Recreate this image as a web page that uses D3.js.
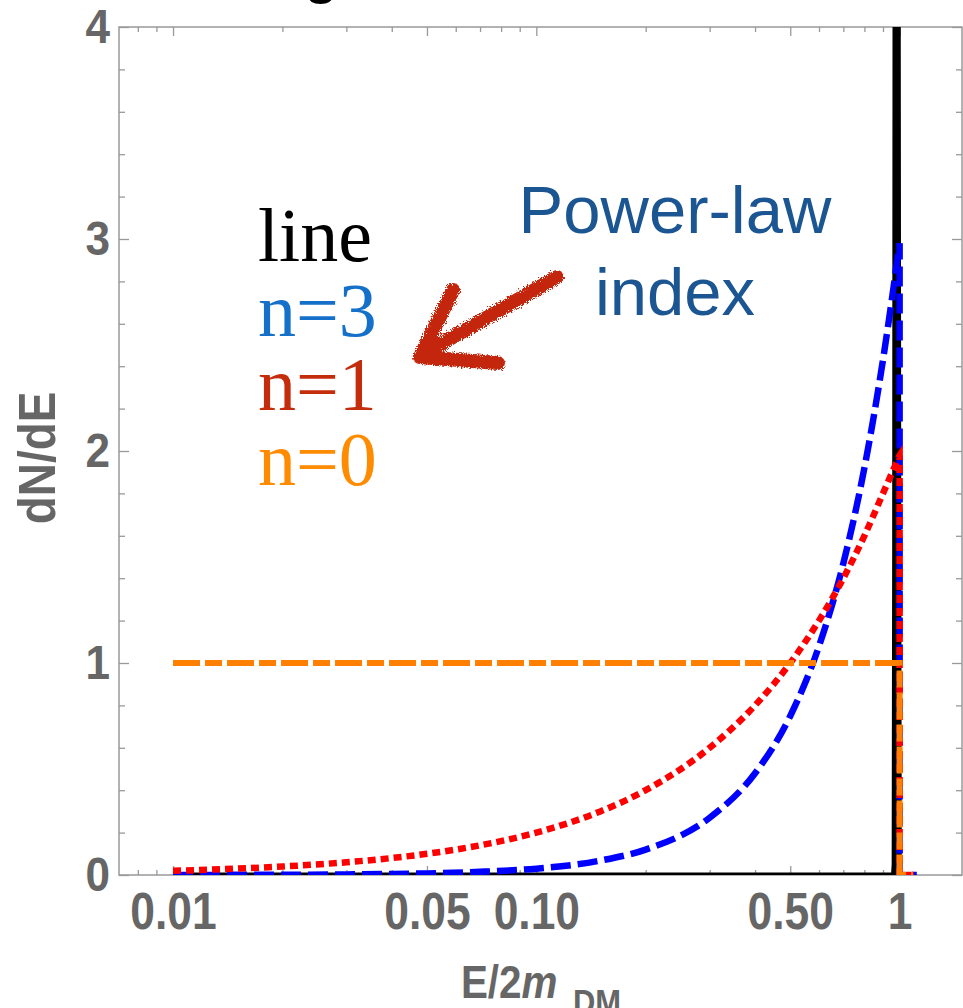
<!DOCTYPE html>
<html>
<head>
<meta charset="utf-8">
<script src="https://cdn.jsdelivr.net/npm/d3@7"></script>
<style>
  body { margin: 0; background: #fff; }
  svg { display: block; }
</style>
</head>
<body>
<script>
// values
const xValues  = [0.01, 0.015, 0.02, 0.03, 0.04, 0.05, 0.07, 0.1, 0.15, 0.2, 0.3, 0.4, 0.5, 0.6, 0.7, 0.8, 0.9, 1.0];
const n3Values = [0.0003, 0.0007, 0.0012, 0.0027, 0.0048, 0.0075, 0.015, 0.03, 0.068, 0.12, 0.27, 0.48, 0.75, 1.08, 1.47, 1.92, 2.43, 2.98];
const n1Values = [0.02, 0.03, 0.04, 0.06, 0.08, 0.10, 0.14, 0.20, 0.30, 0.40, 0.60, 0.80, 1.00, 1.20, 1.40, 1.60, 1.80, 1.98];
const n0X = [0.01, 1.0];
const n0Values = [1, 1];
const lineX = [0.01, 0.962, 0.966, 0.969, 0.972, 0.99, 0.995, 0.998, 1.0];
const lineValues = [0, 0, 0.05, 1.5, 5, 5, 1.5, 0.05, 0];
const tailEnd = { n3: 1.115, n1: 1.1, n0: 1.088 };

const xMajorTicks = [0.01, 0.05, 0.1, 0.5, 1];
const xTickLabels = ["0.01", "0.05", "0.10", "0.50", "1"];
const xMinorTicks = [0.008, 0.009, 0.02, 0.03, 0.04, 0.06, 0.07, 0.08, 0.09, 0.2, 0.3, 0.4, 0.6, 0.7, 0.8, 0.9];
const yMajorTicks = [0, 1, 2, 3, 4];
const yMinorTicks = [0.2, 0.4, 0.6, 0.8, 1.2, 1.4, 1.6, 1.8, 2.2, 2.4, 2.6, 2.8, 3.2, 3.4, 3.6, 3.8];
const legendLabels = ["line", "n=3", "n=1", "n=0"];
const legendColors = ["#000000", "#1470c8", "#c42d0c", "#ff8c00"];

const svg = d3.select("body").append("svg")
  .attr("width", 963)
  .attr("height", 1008);

const x = d3.scaleLog().domain([0.0071, 1.485]).range([119, 962]);
const y = d3.scaleLinear().domain([0, 4]).range([875, 27]);

const sans = "'Liberation Sans', Arial, sans-serif";
const grey = "#666";

// cut-off title piece at the very top
svg.append("text")
  .attr("x", 321).attr("y", -8)
  .attr("text-anchor", "middle")
  .attr("font-family", sans).attr("font-weight", "bold").attr("font-size", 56)
  .text("g");

// ticks
function tidy(g) {
  g.select(".domain").remove();
  g.selectAll("line").attr("stroke", "#999").attr("stroke-width", 1.3);
}
function labelStyle(g, size, squeeze) {
  g.selectAll("text")
    .attr("font-family", sans)
    .attr("font-weight", "bold")
    .attr("font-size", size)
    .attr("fill", grey)
    .attr("transform", `scale(${squeeze},1)`);
}

const xBottom = svg.append("g").attr("transform", `translate(0,${y(0)})`);
xBottom.append("g")
  .call(d3.axisBottom(x).tickValues(xMajorTicks).tickSizeInner(-9).tickSizeOuter(0)
    .tickPadding(18).tickFormat((d, i) => xTickLabels[i]))
  .call(tidy).call(g => labelStyle(g, 51, 0.87));
xBottom.append("g")
  .call(d3.axisBottom(x).tickValues(xMinorTicks).tickSize(-5).tickFormat(""))
  .call(tidy);

const xTop = svg.append("g").attr("transform", `translate(0,${y(4)})`);
xTop.append("g").call(d3.axisTop(x).tickValues(xMajorTicks).tickSize(-9).tickFormat("")).call(tidy);
xTop.append("g").call(d3.axisTop(x).tickValues(xMinorTicks).tickSize(-5).tickFormat("")).call(tidy);

const yLeft = svg.append("g").attr("transform", `translate(${x.range()[0]},0)`);
yLeft.append("g")
  .call(d3.axisLeft(y).tickValues(yMajorTicks).tickSizeInner(-10).tickSizeOuter(0)
    .tickPadding(10).tickFormat(d3.format("d")))
  .call(tidy).call(g => labelStyle(g, 49, 0.9));
yLeft.append("g").call(d3.axisLeft(y).tickValues(yMinorTicks).tickSize(-6).tickFormat("")).call(tidy);

const yRight = svg.append("g").attr("transform", `translate(${x.range()[1]},0)`);
yRight.append("g").call(d3.axisRight(y).tickValues(yMajorTicks).tickSize(-10).tickFormat("")).call(tidy);
yRight.append("g").call(d3.axisRight(y).tickValues(yMinorTicks).tickSize(-6).tickFormat("")).call(tidy);

// frame
svg.append("rect")
  .attr("x", x.range()[0]).attr("y", y(4))
  .attr("width", x.range()[1] - x.range()[0])
  .attr("height", y(0) - y(4))
  .attr("fill", "none").attr("stroke", "#999").attr("stroke-width", 1.5);

// curves
svg.append("clipPath").attr("id", "plot")
  .append("rect")
  .attr("x", x.range()[0]).attr("y", y(4))
  .attr("width", x.range()[1] - x.range()[0])
  .attr("height", y(0) - y(4));

const plot = svg.append("g").attr("clip-path", "url(#plot)");

function curvePath(xs, ys, end) {
  const pts = xs.map((v, i) => [x(v), y(ys[i])]);
  const last = xs[xs.length - 1];
  return d3.line().curve(d3.curveMonotoneX)(pts) +
    `L${x(last)},${y(0)}L${x(end)},${y(0)}`;
}

plot.append("path")
  .attr("d", d3.line().x(d => x(d)).y((d, i) => y(lineValues[i]))(lineX))
  .attr("fill", "none").attr("stroke", "#000").attr("stroke-width", 5);

plot.append("path")
  .attr("d", curvePath(xValues, n3Values, tailEnd.n3))
  .attr("fill", "none").attr("stroke", "#0000ff").attr("stroke-width", 6.5)
  .attr("stroke-dasharray", "20,7");

plot.append("path")
  .attr("d", curvePath(xValues, n1Values, tailEnd.n1))
  .attr("fill", "none").attr("stroke", "#ff0000").attr("stroke-width", 6.5)
  .attr("stroke-dasharray", "8,5");

plot.append("path")
  .attr("d", curvePath(n0X, n0Values, tailEnd.n0))
  .attr("fill", "none").attr("stroke", "#ff8000").attr("stroke-width", 6)
  .attr("stroke-dasharray", "27,5,17,5");

// axis titles
svg.append("text")
  .attr("transform", "translate(55,458) rotate(-90) scale(0.9,1)")
  .attr("text-anchor", "middle")
  .attr("font-family", sans).attr("font-weight", "bold").attr("font-size", 51)
  .attr("fill", grey)
  .text("dN/dE");

const xTitle = svg.append("text")
  .attr("transform", "translate(541,998) scale(0.86,1)")
  .attr("text-anchor", "middle")
  .attr("font-family", sans).attr("font-weight", "bold").attr("font-size", 47)
  .attr("fill", grey);
xTitle.append("tspan").text("E/2");
xTitle.append("tspan").attr("font-style", "italic").text("m");
xTitle.append("tspan").attr("font-size", 36).attr("dx", 18).attr("dy", 16).text("DM");

// legend
svg.append("g").selectAll("text")
  .data(legendLabels)
  .enter().append("text")
  .attr("x", 258)
  .attr("y", (d, i) => 261 + i * 74.5)
  .attr("font-family", "'Liberation Serif', 'Times New Roman', serif")
  .attr("font-size", 76)
  .attr("fill", (d, i) => legendColors[i])
  .text(d => d);

// annotation
const note = svg.append("text")
  .attr("text-anchor", "middle")
  .attr("font-family", sans).attr("font-size", 67)
  .attr("fill", "#1b5592");
note.append("tspan").attr("x", 675).attr("y", 233).text("Power-law");
note.append("tspan").attr("x", 675).attr("y", 315).text("index");

const rough = svg.append("filter").attr("id", "rough")
  .attr("x", "-10%").attr("y", "-10%").attr("width", "120%").attr("height", "120%");
rough.append("feTurbulence").attr("type", "fractalNoise")
  .attr("baseFrequency", 0.8).attr("numOctaves", 2).attr("result", "noise");
rough.append("feDisplacementMap").attr("in", "SourceGraphic").attr("in2", "noise")
  .attr("scale", 7);

const shaft = [[0.114, 2.821], [0.0523, 2.486]];
const head = [[0.059, 2.759], [0.0478, 2.443], [0.0784, 2.415]];
const arrowLine = d3.line().x(d => x(d[0])).y(d => y(d[1]));
svg.append("path")
  .attr("d", arrowLine(shaft) + arrowLine(head))
  .attr("fill", "none")
  .attr("stroke", "#c42508")
  .attr("stroke-width", 14)
  .attr("stroke-linecap", "round")
  .attr("stroke-linejoin", "round")
  .attr("filter", "url(#rough)");
</script>
</body>
</html>
